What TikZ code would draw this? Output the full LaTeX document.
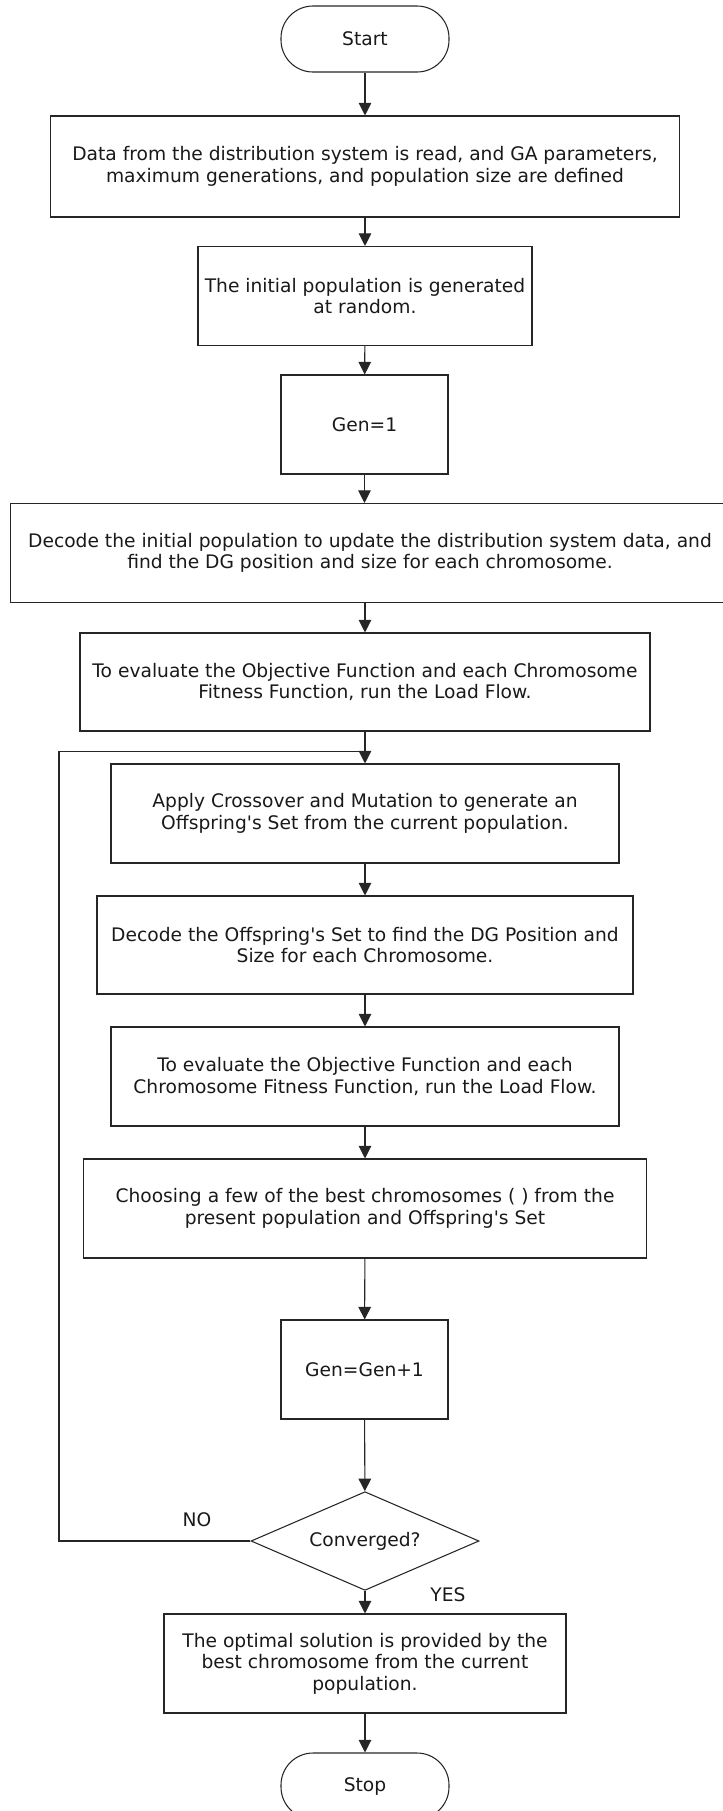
\documentclass[tikz,border=0pt]{standalone}
\usepackage{fontspec}
\setmainfont{DejaVu Sans}
\usetikzlibrary{shapes.geometric,arrows.meta}

\newcommand{\apos}{\textquotesingle}

\begin{document}
\begin{tikzpicture}[
  x=0.75pt, y=-0.75pt,
  font=\fontsize{14}{16.2}\selectfont,
  base/.style={draw=black!85, line width=0.8pt, inner sep=0pt, align=center, text=black!90},
  procbox/.style={base, rectangle, minimum height=74.25pt},
  terminal/.style={base, rectangle, rounded corners=24pt, minimum width=126pt, minimum height=49.5pt},
  decision/.style={base, diamond, shape aspect=2.31, minimum width=171pt, minimum height=74pt},
  flow/.style={draw=black!85, line width=0.8pt, -{Triangle[length=9.5pt,width=9.5pt]}},
  link/.style={draw=black!85, line width=0.8pt},
  tag/.style={inner sep=0pt, text=black!90}
]
\useasboundingbox (0,0) rectangle (722,1811);

% terminals and process steps
\node[terminal] (start) at (365,39) {Start};
\node[procbox, minimum width=471.75pt, minimum height=75.75pt] (read) at (365,166.5)
  {Data from the distribution system is read, and GA parameters,\\maximum generations, and population size are defined};
\node[procbox, minimum width=250.5pt] (init) at (365,296)
  {The initial population is generated\\at random.};
\node[procbox, minimum width=125.25pt] (gen1) at (364.5,424.5) {Gen=1};
\node[procbox, minimum width=539.25pt] (decode) at (370,553)
  {Decode the initial population to update the distribution system data, and\\find the DG position and size for each chromosome.};
\node[procbox, minimum width=427.5pt, minimum height=73.5pt] (eval1) at (365,682)
  {To evaluate the Objective Function and each Chromosome\\Fitness Function, run the Load Flow.};
\node[procbox, minimum width=381pt] (cross) at (365,813.5)
  {Apply Crossover and Mutation to generate an\\Offspring\apos s Set from the current population.};
\node[procbox, minimum width=402pt, minimum height=73.5pt] (decoff) at (365,945)
  {Decode the Offspring\apos s Set to find the DG Position and\\Size for each Chromosome.};
\node[procbox, minimum width=381pt] (eval2) at (365,1076.5)
  {To evaluate the Objective Function and each\\Chromosome Fitness Function, run the Load Flow.};
\node[procbox, minimum width=422.25pt] (choose) at (365,1208.5)
  {Choosing a few of the best chromosomes ( ) from the\\present population and Offspring\apos s Set};
\node[procbox, minimum width=125.25pt] (genup) at (364.5,1369.5) {Gen=Gen+1};
\node[decision] (conv) at (365,1541) {Converged?};
\node[procbox, minimum width=301.5pt] (best) at (365,1663.5)
  {The optimal solution is provided by the\\best chromosome from the current\\population.};
\node[terminal] (stop) at (365,1786) {Stop};

% branch labels
\node[tag] (no) at (197,1520) {NO};
\node[tag] (yes) at (448,1595) {YES};

% main flow
\draw[flow] (start) -- (read);
\draw[flow] (read) -- (init);
\draw[flow] (init) -- (gen1);
\draw[flow] (gen1.south) -- (gen1.south |- decode.north);
\draw[flow] (eval1.north |- decode.south) -- (eval1.north);
\draw[flow] (eval1) -- (cross);
\draw[flow] (cross) -- (decoff);
\draw[flow] (decoff) -- (eval2);
\draw[flow] (eval2) -- (choose);
\draw[flow] (choose) -- (genup);
\draw[flow] (genup) -- (conv);
\draw[flow] (conv) -- (best);
\draw[flow] (best) -- (stop);

% return path for the NO branch
\coordinate (join) at (365,751.5);
\coordinate (corner) at (59,751.5);
\draw[link] (conv.west) -| (corner) -- (join);
\end{tikzpicture}
\end{document}
